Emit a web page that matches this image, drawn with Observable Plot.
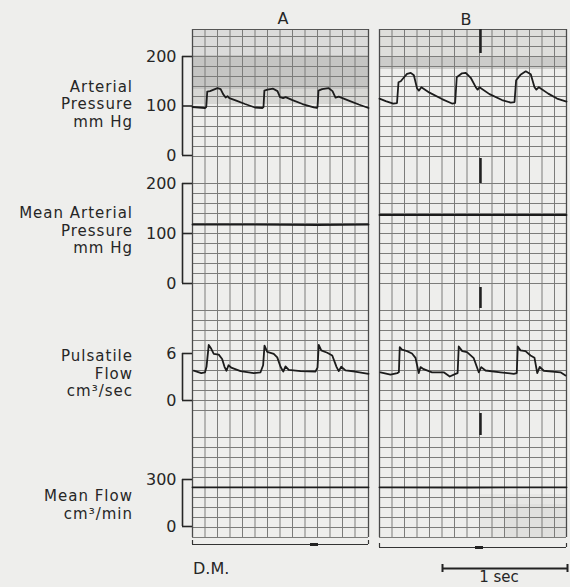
<!DOCTYPE html>
<html><head><meta charset="utf-8">
<script src="https://cdn.jsdelivr.net/npm/d3@7"></script>
<script src="https://cdn.jsdelivr.net/npm/@observablehq/plot@0.6"></script>
<style>
html,body{margin:0;padding:0;background:#eeeeec;}
#chart{position:relative;width:570px;height:587px;background:#eeeeec;font-family:"DejaVu Sans",sans-serif;color:#262626;overflow:hidden}
.abs{position:absolute}
.lab{position:absolute;right:437px;text-align:right;font-size:15px;line-height:17.5px;letter-spacing:1px;white-space:nowrap}
.txt{position:absolute;white-space:nowrap;line-height:1}
</style></head><body><div id="chart"></div>
<script>
// ---------------- data ----------------
const panels = ["A", "B"];
const durations = [1.408, 1.496];          // seconds of recording shown in each panel
const channelNames = [
  ["Arterial", "Pressure", "mm Hg"],
  ["Mean Arterial", "Pressure", "mm Hg"],
  ["Pulsatile", "Flow", "cm³/sec"],
  ["Mean Flow", "cm³/min"]
];
const arterialTicks = [0, 100, 200];
const meanArterialTicks = [0, 100, 200];
const pulsatileTicks = [0, 6];
const meanFlowTicks = [0, 300];

// [time (s), mm Hg]
const arterialA = [[0,98],[0.05,97],[0.10,96],[0.11,98],[0.118,129],[0.14,130],[0.17,133],[0.20,136],[0.225,134],[0.245,124],[0.265,117],[0.28,120],[0.295,116],[0.35,111],[0.42,104],[0.50,97],[0.56,96],[0.568,98],[0.575,131],[0.60,133],[0.645,135],[0.68,130],[0.70,118],[0.725,116],[0.745,118],[0.80,112],[0.88,104],[0.97,97],[0.995,96],[1.0,98],[1.008,131],[1.037,134],[1.09,136],[1.12,130],[1.144,117],[1.17,119],[1.25,111],[1.33,103],[1.408,96]];
const arterialB = [[0,115],[0.05,110],[0.11,105],[0.14,106],[0.152,148],[0.17,150],[0.19,156],[0.22,165],[0.25,167],[0.275,162],[0.30,136],[0.315,131],[0.335,138],[0.40,127],[0.50,114],[0.58,105],[0.605,106],[0.618,158],[0.66,166],[0.69,167],[0.73,157],[0.77,138],[0.785,133],[0.80,138],[0.88,124],[0.98,112],[1.05,107],[1.08,108],[1.093,152],[1.128,163],[1.17,170],[1.21,164],[1.24,138],[1.255,133],[1.275,138],[1.35,125],[1.42,115],[1.496,109]];
// [time (s), mm Hg]
const meanArterialA = [[0,118],[0.5,118],[1.0,117],[1.408,118]];
const meanArterialB = [[0,137],[0.7,137],[1.496,137]];
// [time (s), cm3/sec]
const pulsatileA = [[0.01,3.8],[0.07,3.5],[0.10,3.6],[0.112,4.3],[0.13,7.1],[0.15,6.6],[0.17,5.95],[0.21,5.85],[0.237,5.3],[0.256,4.3],[0.272,3.8],[0.288,4.5],[0.31,4.2],[0.384,3.75],[0.49,3.5],[0.544,3.6],[0.565,4.5],[0.576,7.0],[0.598,6.2],[0.65,5.95],[0.678,5.5],[0.704,4.3],[0.726,3.7],[0.744,4.35],[0.77,3.9],[0.864,3.75],[0.984,3.7],[1.0,4.2],[1.01,7.1],[1.03,6.4],[1.078,6.1],[1.118,5.75],[1.152,4.3],[1.17,3.75],[1.19,4.3],[1.224,3.85],[1.30,3.7],[1.408,3.4]];
const pulsatileB = [[0.008,3.6],[0.088,3.3],[0.142,3.5],[0.155,3.6],[0.162,6.8],[0.18,6.5],[0.22,6.3],[0.26,6.0],[0.288,5.45],[0.314,3.5],[0.328,4.26],[0.354,4.0],[0.42,3.6],[0.514,3.6],[0.562,3.06],[0.608,3.4],[0.625,3.5],[0.634,6.9],[0.662,6.3],[0.70,6.17],[0.754,5.4],[0.794,3.6],[0.814,4.26],[0.848,3.83],[0.968,3.6],[1.074,3.4],[1.098,3.5],[1.106,6.9],[1.128,6.4],[1.168,6.3],[1.208,5.75],[1.24,5.45],[1.262,3.5],[1.282,4.3],[1.314,3.8],[1.448,3.6],[1.488,3.2]];
// [time (s), cm3/min]
const meanFlowA = [[0,250],[0.7,250],[1.408,250]];
const meanFlowB = [[0,250],[0.7,249],[1.496,250]];

const eventTimeB = 0.808;       // marker on record B
const timeMarks = [[0.944, 1.008], [0.768, 0.832]];
const scaleBar = [0.504, 1.504]; // 1 second

// ---------------- layout ----------------
const chart = document.getElementById("chart");
const pxPerSec = 125, gridTop = 29;
const colLeft = [192, 379];
const channels = [
  {series: [arterialA, arterialB], domain: [0, 200], ticks: arterialTicks, zeroY: 155, px: 99, mt: 26, labelTop: 78.8},
  {series: [meanArterialA, meanArterialB], domain: [0, 200], ticks: meanArterialTicks, zeroY: 283, px: 100, mt: 10, labelTop: 205},
  {series: [pulsatileA, pulsatileB], domain: [0, 6], ticks: pulsatileTicks, zeroY: 400, px: 47, mt: 16, labelTop: 348},
  {series: [meanFlowA, meanFlowB], domain: [0, 300], ticks: meanFlowTicks, zeroY: 526, px: 47, mt: 10, labelTop: 488}
];
const baseStyle = "background:transparent;overflow:visible;max-width:none;font-family:'DejaVu Sans',sans-serif;font-size:16px;color:#262626";

function place(node, left, top) {
  const d = document.createElement("div");
  d.className = "abs";
  d.style.left = left + "px"; d.style.top = top + "px";
  d.appendChild(node); chart.appendChild(d);
}
function text(str, x, baseline, fs, anchor) {
  const d = document.createElement("div");
  d.className = "txt"; d.textContent = str;
  d.style.fontSize = fs + "px";
  d.style.top = (baseline - 0.846 * fs) + "px";
  d.style.left = x + "px";
  if (anchor === "middle") d.style.transform = "translateX(-50%)";
  chart.appendChild(d);
}

// paper grid per panel
const segs = [[0.7, 12], [15.4, 10], [28.1, 10], [40.8, 10]];
const shading = [
  [[0, 0, 2.6, 0.16], [0, 2.6, 6.0, 0.36], [0, 6.0, 7.5, 0.2]],
  [[0, 0, 2.8, 0.14], [0, 2.8, 4.0, 0.3], [0.8, 46.5, 50.8, 0.06], [1.0, 47.5, 50.8, 0.06]]
];
panels.forEach((p, i) => {
  const dur = durations[i];
  const w = dur * pxPerSec;
  const vlines = d3.range(0, dur - 0.02, 0.1);
  const hlines = segs.flatMap(([s, n]) => d3.range(0, n + 1).map(k => s + k));
  const marks = [
    Plot.rect(shading[i], {x1: d => d[0], x2: dur, y1: d => d[1], y2: d => d[2], fill: "#7e7e7a", fillOpacity: d => d[3]}),
    Plot.ruleX(vlines, {y1: 0, y2: 50.8, stroke: "#7c7c7a", strokeWidth: 1}),
    Plot.ruleY(hlines, {x1: 0, x2: dur, stroke: "#7c7c7a", strokeWidth: 1}),
    Plot.ruleX([0, dur], {y1: 0, y2: 50.8, stroke: "#4a4a4a", strokeWidth: 1.3}),
    Plot.ruleY([0], {x1: 0, x2: dur, stroke: "#555", strokeWidth: 1.2}),
    Plot.ruleY([i === 0 ? 51.5 : 51.8], {x1: 0, x2: dur, stroke: "#333", strokeWidth: 1.2}),
    Plot.ruleX([0, dur], {y1: i === 0 ? 51.1 : 51.4, y2: i === 0 ? 51.5 : 51.8, stroke: "#333", strokeWidth: 1.2}),
    Plot.ruleY([i === 0 ? 51.5 : 51.8], {x1: timeMarks[i][0], x2: timeMarks[i][1], stroke: "#222", strokeWidth: 3})
  ];
  if (i === 1) {
    marks.push(Plot.ruleX([[0, 2.4], [12.9, 15.4], [25.8, 27.9], [38.4, 40.6]],
      {x: eventTimeB, y1: d => d[0], y2: d => d[1], stroke: "#222", strokeWidth: 2.5}));
    marks.push(Plot.ruleY([53.9], {x1: scaleBar[0], x2: scaleBar[1], stroke: "#222", strokeWidth: 2}));
    marks.push(Plot.ruleX(scaleBar, {y1: 53.5, y2: 54.3, stroke: "#222", strokeWidth: 2}));
  }
  const svg = Plot.plot({
    width: w + 5, height: 558, marginLeft: 1, marginRight: 4, marginTop: 0, marginBottom: 0,
    x: {domain: [0, dur], range: [1, w + 1], axis: null},
    y: {domain: [0, 55.8], range: [0, 558], axis: null},
    style: baseStyle, marks
  });
  place(svg, colLeft[i] - 1, gridTop);
});

// channel traces
channels.forEach((c, ci) => {
  panels.forEach((p, i) => {
    const dur = durations[i];
    const w = dur * pxPerSec;
    const showAxis = i === 0;
    const mL = showAxis ? 60 : 1, mB = 5;
    const height = c.mt + c.px + mB;
    const marks = [];
    if (showAxis) {
      marks.push(Plot.axisY({ticks: c.ticks, tickFormat: "d", tickSize: 10, tickPadding: 6, strokeWidth: 1.6, fontSize: 16}));
      marks.push(Plot.ruleX([0], {y1: c.domain[0], y2: c.domain[1], dx: -10, stroke: "#262626", strokeWidth: 1.6}));
    }
    marks.push(Plot.line(c.series[i], {x: d => d[0], y: d => d[1], stroke: "#1c1c1c", strokeWidth: 1.8}));
    const svg = Plot.plot({
      width: mL + w + 1, height, marginLeft: mL, marginRight: 1, marginTop: c.mt, marginBottom: mB,
      x: {domain: [0, dur], axis: null},
      y: showAxis ? {domain: c.domain} : {domain: c.domain, axis: null},
      style: baseStyle, marks
    });
    place(svg, colLeft[i] - mL, c.zeroY - c.px - c.mt);
  });
  const lab = document.createElement("div");
  lab.className = "lab";
  lab.style.top = c.labelTop + "px";
  lab.innerHTML = channelNames[ci].join("<br>");
  chart.appendChild(lab);
});

// titles and notes
text(panels[0], 283, 25, 16, "middle");
text(panels[1], 466, 26, 16, "middle");
text("D.M.", 193, 575, 16);
text("1 sec", 499, 583, 15, "middle");
</script></body></html>
